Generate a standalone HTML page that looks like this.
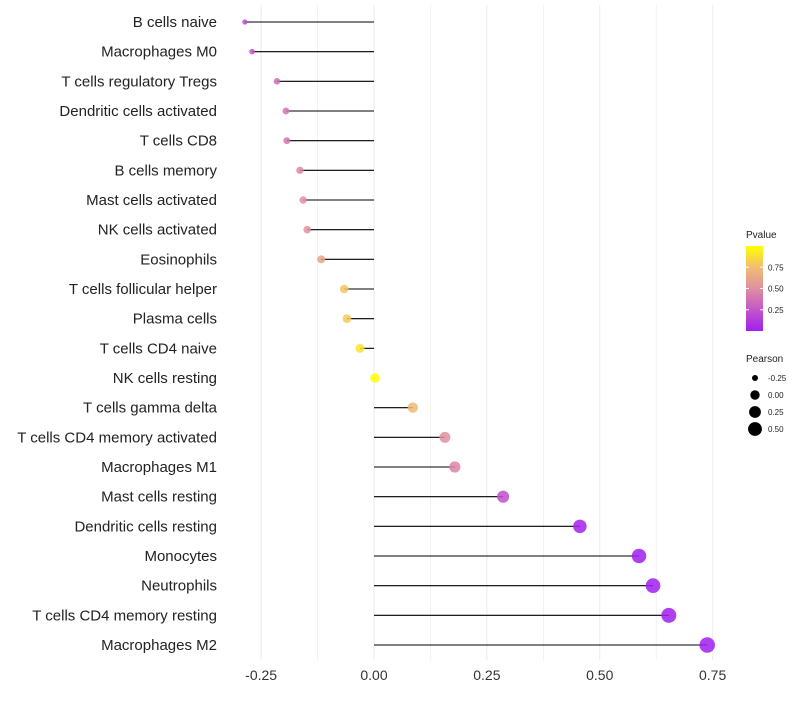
<!DOCTYPE html>
<html><head><meta charset="utf-8"><style>
body{margin:0;background:#fff;font-family:"Liberation Sans",sans-serif;}
svg text{font-family:"Liberation Sans",sans-serif;}
</style></head><body>
<svg id="chart" width="800" height="700"></svg>
<script>
const categories=["B cells naive","Macrophages M0","T cells regulatory  Tregs","Dendritic cells activated","T cells CD8","B cells memory","Mast cells activated","NK cells activated","Eosinophils","T cells follicular helper","Plasma cells","T cells CD4 naive","NK cells resting","T cells gamma delta","T cells CD4 memory activated","Macrophages M1","Mast cells resting","Dendritic cells resting","Monocytes","Neutrophils","T cells CD4 memory resting","Macrophages M2"];
const pearson=[-0.286,-0.27,-0.215,-0.195,-0.193,-0.164,-0.157,-0.148,-0.117,-0.066,-0.06,-0.031,0.002,0.086,0.157,0.179,0.286,0.456,0.587,0.618,0.653,0.738];
const pvalues=[0.2,0.25,0.35,0.38,0.38,0.47,0.5,0.52,0.62,0.78,0.8,0.9,1.0,0.72,0.5,0.45,0.22,0.02,0.0,0.0,0.0,0.0];
const xTicks=[-0.25,0,0.25,0.5,0.75];
const xTickLabels=["-0.25","0.00","0.25","0.50","0.75"];
const pTicks=[0.25,0.5,0.75];
const sizeLegend=[-0.25,0,0.25,0.5];

const NS="http://www.w3.org/2000/svg";
const svg=document.getElementById('chart');
function el(t,a,p){const e=document.createElementNS(NS,t);for(const k in a)e.setAttribute(k,a[k]);(p||svg).appendChild(e);return e;}
const x=v=>374+v*451.5;
const y=i=>22+i*(623/21);
const rad=v=>Math.sqrt(Math.max(2.5,22+52*v));
const stops=[[0,[161,31,240]],[0.25,[196,86,200]],[0.5,[223,143,160]],[0.75,[242,189,112]],[1,[255,255,0]]];
function col(p){for(let i=1;i<stops.length;i++){if(p<=stops[i][0]){const a=stops[i-1],b=stops[i];const t=(p-a[0])/(b[0]-a[0]);const c=a[1].map((v,j)=>Math.round(v+(b[1][j]-v)*t));return `rgb(${c})`;}}return 'rgb(255,255,0)';}

for(let v=-0.25;v<=0.751;v+=0.125){
  const g=el('line',{x1:x(v),x2:x(v),y1:5,y2:660,stroke:'#ebebeb','stroke-width':Math.abs((v*8)%2)<0.01?1:0.6});
  
  
}
xTicks.forEach((v,i)=>{
  const t=el('text',{x:x(v),y:680,'text-anchor':'middle','font-size':14,fill:'#333'});
  t.textContent=xTickLabels[i];
  
  
});
categories.forEach((c,i)=>{
  const t=el('text',{x:217,y:y(i)+5,'text-anchor':'end','font-size':15,fill:'#222'});
  t.textContent=c;
  
  
  const l=el('line',{x1:x(0),x2:x(pearson[i]),y1:y(i),y2:y(i),stroke:'#000','stroke-width':1.1});
  
  
  const d=el('circle',{cx:x(pearson[i]),cy:y(i),r:rad(pearson[i]),fill:col(pvalues[i]),'fill-opacity':0.85});
  
  
});
const lt=el('text',{x:746,y:238,'font-size':10,fill:'#222'});lt.textContent='Pvalue';


const defs=el('defs',{});
const lg=el('linearGradient',{id:'pg',x1:0,y1:1,x2:0,y2:0},defs);
stops.forEach(s=>el('stop',{offset:s[0],'stop-color':col(s[0])},lg));
const bar=el('rect',{x:746,y:246,width:17,height:85,fill:'url(#pg)'});


pTicks.forEach(p=>{
  const yy=331-p*85;
  el('line',{x1:746,x2:749,y1:yy,y2:yy,stroke:'#fff'});el('line',{x1:760,x2:763,y1:yy,y2:yy,stroke:'#fff'});
  const t=el('text',{x:768,y:yy+3,'font-size':8,fill:'#222'});t.textContent=p.toFixed(2);
  
  
});
const st=el('text',{x:746,y:362,'font-size':10,fill:'#222'});st.textContent='Pearson';


sizeLegend.forEach((v,i)=>{
  const yy=378+i*17;
  const c=el('circle',{cx:755,cy:yy,r:rad(v),fill:'#000'});
  
  
  const t=el('text',{x:768,y:yy+3,'font-size':8,fill:'#222'});t.textContent=v.toFixed(2);
  
  
});
</script>
</body></html>
